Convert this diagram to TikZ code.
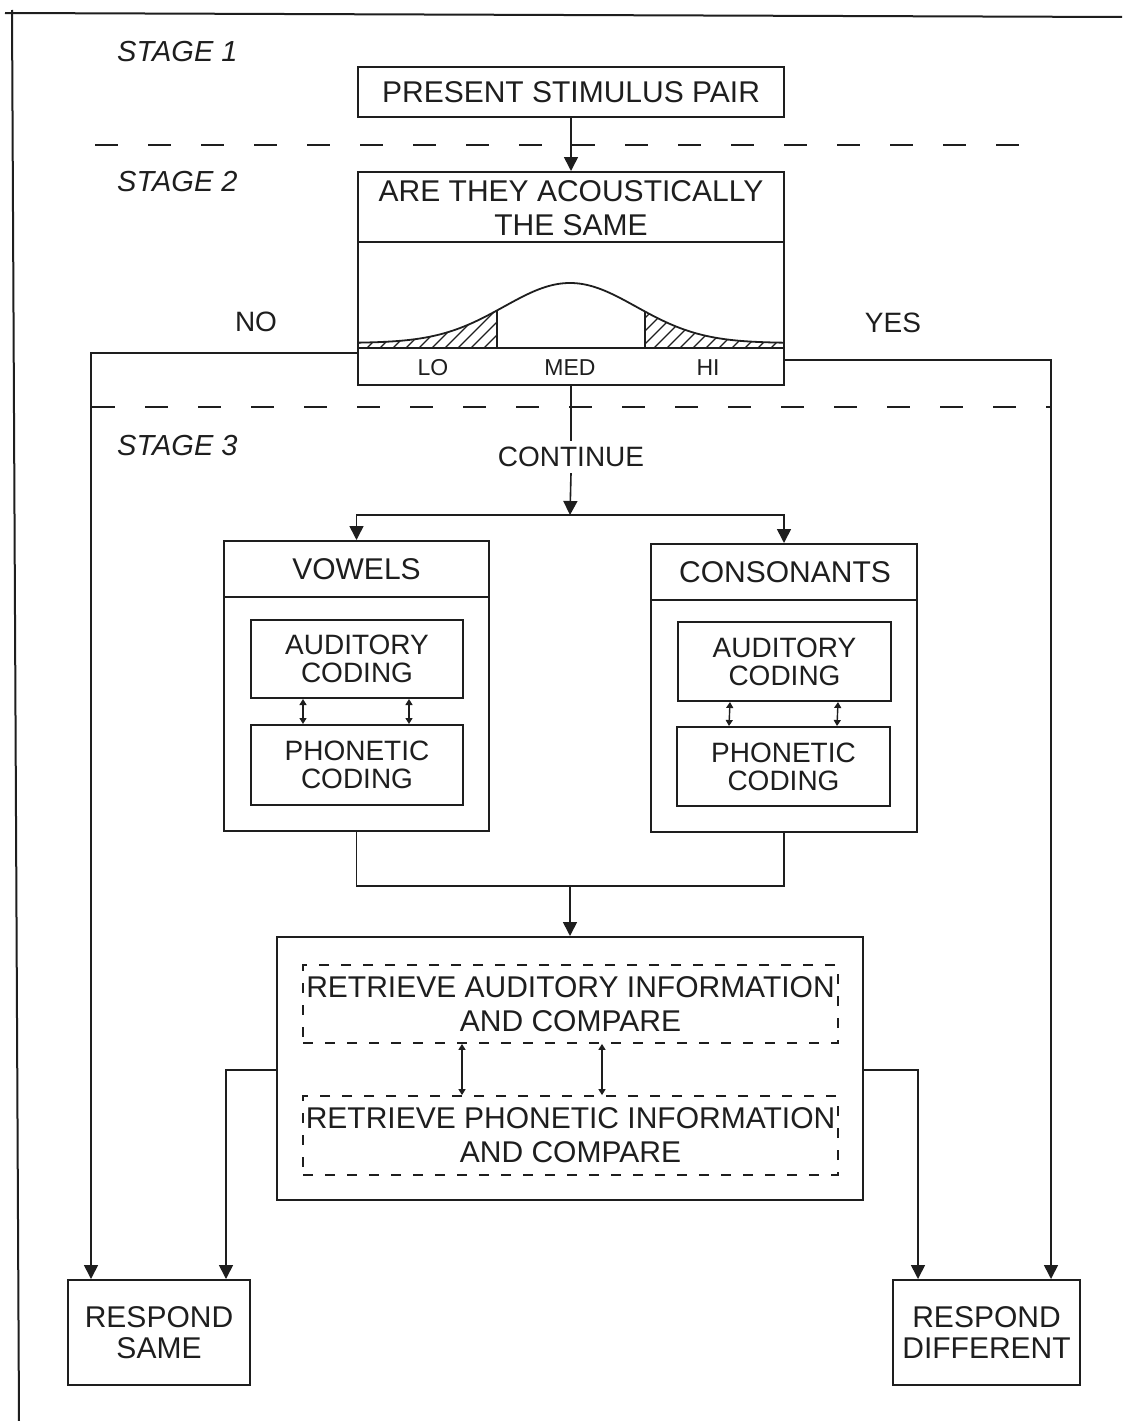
\documentclass[tikz,border=0pt]{standalone}
\usepackage{fontspec}
\setmainfont{Liberation Sans}
\usetikzlibrary{arrows.meta,calc}
\definecolor{ink}{RGB}{30,30,30}
\newcommand\lbl{\fontsize{30}{34}\selectfont}
\newcommand\codfont{\fontsize{28}{28}\selectfont}
\begin{document}
\begin{tikzpicture}[x=1pt,y=-1pt]
\tikzset{
 box/.style={draw=ink, line width=2pt, rectangle, inner sep=0pt, align=center, font=\lbl, text=ink},
 dbox/.style={box, dash pattern=on 10pt off 12pt, line width=1.8pt},
 txt/.style={inner sep=0pt, align=center, font=\lbl, text=ink},
 rule/.style={draw=ink, line width=2pt},
 conn/.style={draw=ink, line width=1.6pt},
 arr/.style={conn, -{Triangle[length=14pt,width=14pt]}},
 darr/.style={conn, line width=1.4pt, {Triangle[length=6pt,width=7pt]}-{Triangle[length=6pt,width=7pt]}},
 stageline/.style={draw=ink, line width=2pt, dash pattern=on 23pt off 30pt},
 stagelbl/.style={anchor=west, inner sep=0pt, font=\fontsize{29}{32}\selectfont\itshape, text=ink},
 hatch/.style={draw=ink, line width=1.3pt},
}
\useasboundingbox (0,0) rectangle (1122,1421);
\fill[white] (0,0) rectangle (1122,1421);

% page frame
\draw[rule] (5,13) -- (1122,17);
\draw[rule] (12,10) -- (19,1421);

% stage labels and separators
\node[stagelbl] (s1) at (117,52) {STAGE 1};
\node[stagelbl] (s2) at (117,182) {STAGE 2};
\node[stagelbl] (s3) at (117,446) {STAGE 3};
\draw[stageline] (95,145) -- (1040,145);
\draw[stageline] (92,407) -- (1050,407);

% stage 1
\node[box, minimum width=426pt, minimum height=50pt] (present) at (571,92) {PRESENT STIMULUS PAIR};

% stage 2
\node[box, minimum width=426pt, minimum height=213pt] (acoustic) at (571,278.5) {};
\node[txt] (acqtext) at (571,208) {ARE THEY ACOUSTICALLY\\THE SAME};
\draw[rule] (acoustic.west |- 0,242) -- (acoustic.east |- 0,242);
\draw[rule] (acoustic.west |- 0,348) -- (acoustic.east |- 0,348);
\node[txt, font=\fontsize{23}{26}\selectfont] (lo) at (433,368) {LO};
\node[txt, font=\fontsize{23}{26}\selectfont] (med) at (570,368) {MED};
\node[txt, font=\fontsize{23}{26}\selectfont] (hi) at (708,368) {HI};
% bell curve
\draw[ink, line width=1.8pt] plot[domain=358:784, samples=90, smooth] (\x, {343-60*exp(-0.5*((\x-570)/66)^2)});
\begin{scope}
 \clip (358,348) -- plot[domain=358:497, samples=40, smooth] (\x, {343-60*exp(-0.5*((\x-570)/66)^2)}) -- (497,348) -- cycle;
 \foreach \t in {300,313,...,500} \draw[hatch] (\t,350) -- (\t+60,290);
\end{scope}
\begin{scope}
 \clip (645,348) -- plot[domain=645:784, samples=40, smooth] (\x, {343-60*exp(-0.5*((\x-570)/66)^2)}) -- (784,348) -- cycle;
 \foreach \t in {600,613,...,790} \draw[hatch] (\t,350) -- (\t+60,290);
\end{scope}
\draw[ink, line width=1.6pt] (497,348) -- (497,{343-60*exp(-0.5*((497-570)/66)^2)});
\draw[ink, line width=1.6pt] (645,348) -- (645,{343-60*exp(-0.5*((645-570)/66)^2)});

\node[txt] (no) at (256,322) {\fontsize{28}{30}\selectfont NO};
\node[txt] (yes) at (893,323) {\fontsize{28}{30}\selectfont YES};

% stage 3
\node[txt, font=\fontsize{28}{30}\selectfont, inner sep=6pt] (cont) at (571,457) {CONTINUE};

\node[box, minimum width=265pt, minimum height=290pt] (vowels) at (356.5,686) {};
\node[txt] (vtitle) at (356.5,569) {VOWELS};
\draw[rule] (vowels.west |- 0,597) -- (vowels.east |- 0,597);
\node[box, minimum width=212pt, minimum height=78pt, font=\codfont] (va) at (357,659) {AUDITORY\\CODING};
\node[box, minimum width=212pt, minimum height=80pt, font=\codfont] (vp) at (357,765) {PHONETIC\\CODING};

\node[box, minimum width=266pt, minimum height=288pt] (cons) at (784,688) {};
\node[txt] (ctitle) at (785,572) {CONSONANTS};
\draw[rule] (cons.west |- 0,600) -- (cons.east |- 0,600);
\node[box, minimum width=213pt, minimum height=79pt, font=\codfont] (ca) at (784.5,661.5) {AUDITORY\\CODING};
\node[box, minimum width=213pt, minimum height=79pt, font=\codfont] (cp) at (783.5,766.5) {PHONETIC\\CODING};

\node[box, minimum width=586pt, minimum height=263pt] (retr) at (570,1068.5) {};
\node[dbox, minimum width=535pt, minimum height=78pt] (ra) at (570.5,1004) {RETRIEVE AUDITORY INFORMATION\\AND COMPARE};
\node[dbox, minimum width=535pt, minimum height=79pt] (rp) at (570.5,1135.5) {RETRIEVE PHONETIC INFORMATION\\AND COMPARE};

\node[box, minimum width=182pt, minimum height=105pt, font=\fontsize{30}{31}\selectfont] (same) at (159,1332.5) {RESPOND\\SAME};
\node[box, minimum width=187pt, minimum height=105pt, font=\fontsize{30}{31}\selectfont] (diff) at (986.5,1332.5) {RESPOND\\DIFFERENT};

% connectors
\draw[arr] (present.south) -- (acoustic.north);
\draw[arr] (acoustic.west |- 0,353) -| ([xshift=24pt]same.north west);
\draw[arr] (acoustic.east |- 0,360) -| ([xshift=-30pt]diff.north east);
\draw[conn] (acoustic.south) -- (cont.north);
\coordinate (split) at (570,515);
\draw[arr] (cont.south) -- (split);
\draw[arr] (split) -| (vowels.north);
\draw[arr] (split) -| (cons.north);
\foreach \dx in {-54,52} \draw[darr] ([xshift=\dx pt]va.south) -- ([xshift=\dx pt]vp.north);
\foreach \dx in {-54.5,53.5} \draw[darr] ([xshift=\dx pt]ca.south) -- ([xshift=\dx pt]cp.north);
\coordinate (join) at (570,886);
\draw[conn] (vowels.south) |- (join) -| (cons.south);
\draw[arr] (join) -- (retr.north);
\foreach \dx in {-108.5,31.5} \draw[darr] ([xshift=\dx pt]ra.south) -- ([xshift=\dx pt]rp.north);
\draw[arr] (retr.west |- 0,1070) -| ([xshift=67pt]same.north);
\draw[arr] (retr.east |- 0,1070) -| ([xshift=-68.5pt]diff.north);
\end{tikzpicture}
\end{document}
